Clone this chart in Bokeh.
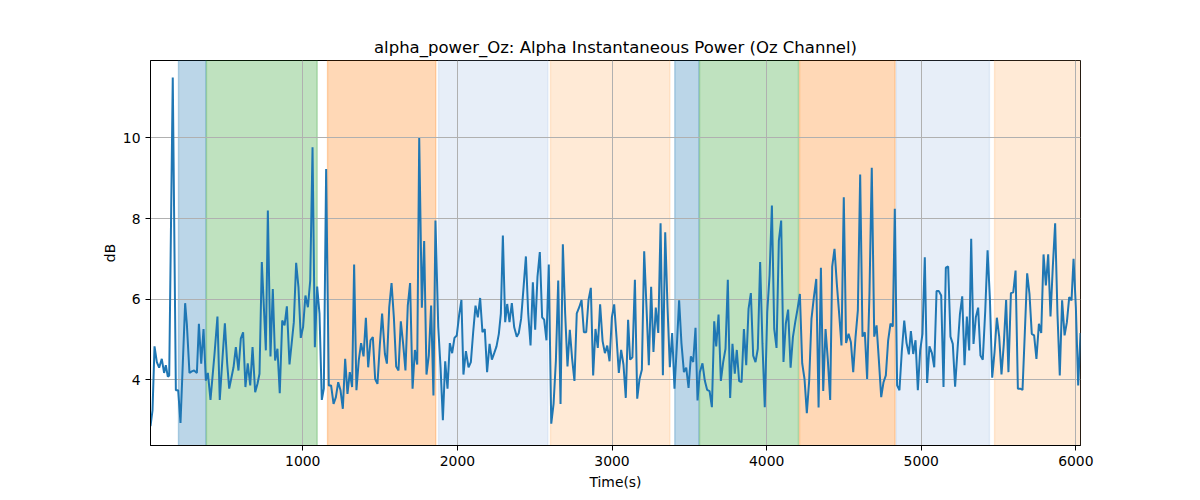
from bokeh.plotting import figure
from bokeh.models import ColumnDataSource, Range1d, FixedTicker
from bokeh.embed import file_html
from bokeh.resources import INLINE

# ---- data ----
time_s = [15, 28, 41, 56, 71, 88, 103, 114, 127, 136, 159, 179, 194, 209, 239, 250, 267, 282, 297, 315,
          328, 343, 358, 373, 386, 403, 429, 448, 463, 481, 496, 511, 524, 552, 567, 584, 599, 614, 629, 644,
          660, 675, 692, 707, 720, 735, 761, 774, 791, 806, 821, 836, 851, 867, 882, 897, 914, 928, 942, 957,
          972, 987, 1002, 1017, 1033, 1048, 1063, 1078, 1093, 1108, 1123, 1136, 1151, 1168, 1183, 1199, 1214, 1229, 1244, 1259,
          1274, 1289, 1304, 1319, 1332, 1347, 1362, 1377, 1393, 1408, 1423, 1438, 1453, 1468, 1483, 1498, 1513, 1531, 1544, 1559,
          1574, 1589, 1604, 1619, 1634, 1649, 1664, 1679, 1694, 1710, 1725, 1740, 1753, 1770, 1785, 1800, 1815, 1830, 1845, 1858,
          1876, 1891, 1906, 1921, 1936, 1951, 1966, 1981, 1996, 2011, 2026, 2039, 2055, 2072, 2087, 2102, 2117, 2132, 2147, 2162,
          2177, 2192, 2208, 2223, 2238, 2253, 2268, 2281, 2294, 2309, 2322, 2337, 2352, 2367, 2384, 2397, 2412, 2428, 2443, 2458,
          2473, 2488, 2503, 2518, 2533, 2548, 2561, 2576, 2591, 2607, 2622, 2637, 2652, 2667, 2682, 2697, 2712, 2727, 2742, 2757,
          2772, 2788, 2803, 2818, 2833, 2848, 2863, 2878, 2893, 2908, 2923, 2939, 2954, 2969, 2984, 2999, 3014, 3029, 3044, 3059,
          3074, 3089, 3104, 3117, 3132, 3148, 3163, 3178, 3193, 3208, 3223, 3238, 3253, 3268, 3283, 3299, 3314, 3329, 3344, 3359,
          3374, 3389, 3404, 3419, 3434, 3449, 3465, 3480, 3495, 3510, 3525, 3540, 3553, 3568, 3585, 3600, 3615, 3631, 3646, 3661,
          3674, 3689, 3704, 3719, 3734, 3749, 3764, 3779, 3794, 3807, 3822, 3838, 3853, 3868, 3883, 3898, 3913, 3928, 3943, 3958,
          3973, 3988, 4004, 4019, 4034, 4049, 4064, 4079, 4094, 4109, 4124, 4139, 4155, 4170, 4185, 4200, 4215, 4230, 4245, 4260,
          4275, 4290, 4305, 4321, 4336, 4351, 4366, 4381, 4396, 4411, 4424, 4439, 4454, 4469, 4484, 4499, 4514, 4530, 4545, 4560,
          4575, 4590, 4605, 4620, 4635, 4650, 4665, 4680, 4696, 4711, 4726, 4741, 4756, 4771, 4786, 4801, 4816, 4829, 4844, 4859,
          4874, 4890, 4905, 4920, 4933, 4948, 4963, 4978, 4993, 5008, 5023, 5038, 5053, 5069, 5084, 5099, 5114, 5129, 5144, 5159,
          5174, 5189, 5204, 5219, 5235, 5250, 5265, 5280, 5295, 5310, 5323, 5338, 5353, 5368, 5383, 5398, 5414, 5429, 5444, 5459,
          5474, 5489, 5504, 5519, 5534, 5549, 5564, 5580, 5595, 5610, 5625, 5640, 5655, 5670, 5685, 5700, 5715, 5730, 5745, 5761,
          5776, 5791, 5806, 5821, 5836, 5851, 5866, 5881, 5896, 5911, 5927, 5942, 5957, 5972, 5985, 6000, 6015, 6030]

alpha_db = [2.85, 3.24, 4.83, 4.44, 4.30, 4.52, 4.17, 4.36, 4.08, 4.10, 11.50, 3.74, 3.74, 2.93, 5.90, 5.39, 4.17, 4.21, 4.23, 4.17,
            5.39, 4.40, 5.26, 3.98, 4.17, 3.50, 4.64, 5.57, 3.50, 4.56, 5.40, 4.40, 3.78, 4.31, 4.81, 4.23, 5.02, 5.18, 3.82, 4.41,
            3.86, 4.81, 3.69, 3.90, 4.15, 6.92, 4.73, 8.20, 4.58, 6.25, 4.48, 4.77, 3.67, 5.47, 5.35, 5.82, 4.38, 4.90, 5.43, 6.90,
            6.30, 5.04, 5.31, 6.09, 5.80, 6.46, 9.77, 4.81, 6.31, 5.64, 3.50, 3.78, 9.23, 3.86, 3.86, 3.40, 3.57, 3.94, 3.74, 3.28,
            4.52, 3.65, 4.19, 3.82, 6.86, 3.74, 4.48, 4.91, 4.58, 5.54, 4.31, 4.98, 5.06, 4.02, 3.90, 4.85, 5.64, 4.64, 4.40, 5.80,
            6.40, 5.55, 4.33, 4.23, 5.45, 4.89, 4.23, 5.84, 6.40, 3.78, 4.74, 4.38, 10.00, 5.79, 7.44, 4.13, 4.60, 5.84, 3.61, 7.95,
            5.31, 4.31, 3.00, 4.46, 3.78, 4.91, 4.66, 5.04, 5.10, 5.60, 5.98, 4.13, 4.71, 4.31, 4.44, 5.18, 5.84, 5.55, 6.03, 5.18,
            5.26, 4.19, 4.89, 4.50, 4.66, 4.83, 5.14, 5.64, 7.58, 5.43, 5.88, 5.43, 5.90, 5.31, 5.07, 5.16, 5.51, 6.30, 7.06, 5.64,
            4.85, 6.42, 5.24, 6.56, 7.17, 5.55, 5.49, 4.98, 6.86, 2.91, 3.40, 4.48, 6.46, 3.40, 7.36, 5.64, 4.33, 5.24, 4.52, 3.97,
            5.65, 5.80, 5.98, 5.18, 5.18, 5.98, 6.28, 4.11, 5.26, 4.79, 5.87, 4.96, 4.66, 4.85, 4.46, 5.55, 5.87, 5.06, 4.17, 4.74,
            4.38, 3.55, 5.49, 4.50, 4.56, 6.48, 3.53, 4.02, 4.25, 7.19, 5.80, 4.36, 6.31, 4.69, 5.79, 5.16, 7.88, 4.11, 7.66, 5.80,
            4.31, 5.16, 3.78, 4.83, 5.97, 4.91, 4.19, 4.30, 3.80, 4.58, 4.44, 5.29, 3.49, 4.19, 4.41, 3.98, 3.75, 3.72, 3.32, 5.45,
            4.83, 5.62, 3.97, 4.44, 4.77, 6.48, 3.55, 4.89, 4.15, 4.74, 3.97, 3.94, 5.26, 4.36, 5.76, 6.15, 4.60, 4.44, 4.77, 6.92,
            4.89, 3.32, 5.68, 6.59, 8.32, 5.26, 4.79, 7.45, 7.95, 4.44, 5.39, 5.74, 4.30, 5.06, 5.43, 5.76, 6.13, 4.41, 4.02, 3.17,
            3.97, 5.51, 6.03, 6.50, 3.31, 6.78, 3.72, 5.26, 4.48, 3.50, 6.81, 7.25, 6.38, 5.64, 4.85, 8.53, 4.91, 5.14, 4.93, 4.19,
            5.06, 5.72, 9.09, 5.07, 5.18, 4.02, 6.13, 9.26, 5.07, 5.35, 4.48, 3.57, 3.94, 4.11, 4.98, 5.39, 5.32, 8.24, 3.86, 3.74,
            4.69, 5.47, 4.91, 4.63, 5.21, 4.64, 4.98, 3.74, 4.73, 5.14, 7.04, 3.92, 4.83, 4.66, 4.31, 6.20, 6.20, 6.09, 3.82, 6.78,
            6.81, 5.07, 4.89, 3.83, 4.77, 5.62, 6.07, 4.36, 5.57, 4.73, 7.50, 4.89, 5.55, 5.79, 4.60, 4.50, 5.72, 7.21, 6.01, 4.05,
            4.69, 5.54, 5.07, 4.13, 4.89, 5.98, 4.19, 6.15, 6.17, 6.71, 3.78, 3.78, 3.75, 5.18, 6.64, 6.13, 5.14, 5.10, 4.52, 5.39,
            5.16, 7.11, 6.34, 7.11, 5.57, 6.81, 7.88, 5.64, 4.11, 5.97, 5.10, 5.43, 6.05, 5.97, 7.00, 5.80, 3.86, 5.16]

# shaded event intervals (seconds)
span_start = [196, 377, 1160, 1878, 2602, 3406, 3566, 4213, 4838, 5474]
span_end = [373, 1093, 1860, 2585, 3374, 3562, 4206, 4831, 5441, 6100]
span_color = ["#1f77b4", "#2ca02c", "#ff7f0e", "#aec7e8", "#ffbb78",
              "#1f77b4", "#2ca02c", "#ff7f0e", "#aec7e8", "#ffbb78"]

x_ticks = [1000, 2000, 3000, 4000, 5000, 6000]
y_ticks = [4, 6, 8, 10]

FONT = "DejaVu Sans"

p = figure(width=1200, height=500, output_backend="svg", toolbar_location=None,
           x_range=Range1d(15, 6030), y_range=Range1d(2.37, 11.92),
           min_border_left=150, min_border_right=120, min_border_top=60, min_border_bottom=55,
           title="alpha_power_Oz: Alpha Instantaneous Power (Oz Channel)")

p.background_fill_color = "white"
p.border_fill_color = "white"
p.outline_line_color = "black"
p.outline_line_width = 1

p.title.align = "center"
p.title.text_font = FONT
p.title.text_font_style = "normal"
p.title.text_font_size = "16.5px"
p.title.text_color = "black"
p.title.standoff = 7

span_src = ColumnDataSource(dict(left=span_start, right=span_end,
                                 bottom=[-100] * len(span_start), top=[100] * len(span_start),
                                 color=span_color))
p.quad(left="left", right="right", bottom="bottom", top="top", source=span_src,
       fill_color="color", fill_alpha=0.3, line_color="color", line_alpha=0.3,
       line_width=1.4, level="image")

p.line(time_s, alpha_db, line_color="#1f77b4", line_width=2)

for ax in (p.xaxis, p.yaxis):
    ax.major_label_text_font = FONT
    ax.major_label_text_font_size = "13.9px"
    ax.major_label_text_color = "black"
    ax.axis_label_text_font = FONT
    ax.axis_label_text_font_size = "13.9px"
    ax.axis_label_text_font_style = "normal"
    ax.axis_label_text_color = "black"
    ax.axis_line_color = "black"
    ax.major_tick_line_color = "black"
    ax.major_tick_in = 0
    ax.major_tick_out = 5
    ax.minor_tick_line_color = None
    ax.major_label_standoff = 5

p.xaxis.ticker = FixedTicker(ticks=x_ticks)
p.yaxis.ticker = FixedTicker(ticks=y_ticks)
p.xaxis.axis_label = "Time(s)"
p.yaxis.axis_label = "dB"
p.xaxis.axis_label_standoff = 5
p.yaxis.axis_label_standoff = 2
p.yaxis.major_label_orientation = "horizontal"

for g in (p.xgrid, p.ygrid):
    g.grid_line_color = "#b0b0b0"
    g.grid_line_width = 1
p.xgrid.ticker = FixedTicker(ticks=x_ticks)
p.ygrid.ticker = FixedTicker(ticks=y_ticks)

open("out.html", "w").write(file_html(p, INLINE))
